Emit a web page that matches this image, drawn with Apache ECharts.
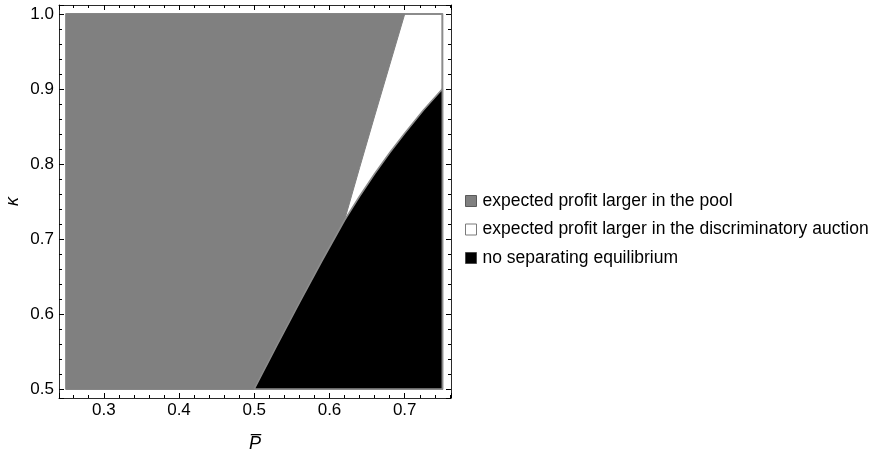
<!DOCTYPE html>
<html>
<head>
<meta charset="utf-8">
<script src="https://cdn.jsdelivr.net/npm/echarts@6/dist/echarts.min.js"></script>
<style>html,body{margin:0;padding:0;background:#fff;overflow:hidden;}#chart{width:869px;height:453px;}</style>
</head>
<body>
<div id="chart"></div>
<script>
// ---- data ----
const seriesNames = [
  'expected profit larger in the pool',
  'expected profit larger in the discriminatory auction',
  'no separating equilibrium'
];
const xTickLabels = ['0.3', '0.4', '0.5', '0.6', '0.7'];
const yTickLabels = ['0.5', '0.6', '0.7', '0.8', '0.9', '1.0'];
const pDomain = [0.25, 0.75];
const kDomain = [0.5, 1.0];
// upper boundary of the "no separating equilibrium" region
const noSepP = [0.50, 0.53, 0.56, 0.59, 0.62, 0.64, 0.66, 0.68, 0.70, 0.725, 0.75];
const noSepK = [0.500, 0.558, 0.615, 0.671, 0.725, 0.757, 0.787, 0.815, 0.841, 0.872, 0.900];
// boundary between pool and discriminatory auction regions
const poolP = [0.620, 0.640, 0.660, 0.680, 0.700];
const poolK = [0.725, 0.795, 0.864, 0.932, 1.000];

// ---- polygons built from the data ----
const rectPoly = [[pDomain[0], kDomain[0]], [pDomain[1], kDomain[0]], [pDomain[1], kDomain[1]], [pDomain[0], kDomain[1]]];
const blackPoly = noSepP.map((p, i) => [p, noSepK[i]]).concat([[pDomain[1], kDomain[0]]]);
const grayPoly = [[pDomain[0], kDomain[0]]]
  .concat(noSepP.slice(0, 5).map((p, i) => [p, noSepK[i]]))
  .concat(poolP.slice(1).map((p, i) => [p, poolK[i + 1]]))
  .concat([[pDomain[0], kDomain[1]]]);

function polySeries(name, poly, fill, stroke, lw) {
  return {
    type: 'custom', name: name, coordinateSystem: 'cartesian2d',
    xAxisIndex: 0, yAxisIndex: 0,
    data: poly, encode: { x: 0, y: 1 },
    itemStyle: { color: fill },
    silent: true, animation: false,
    renderItem: function (params, api) {
      if (params.dataIndex !== 0) return null;
      const pts = poly.map(p => api.coord(p));
      return { type: 'polygon', shape: { points: pts }, style: { fill: fill, stroke: stroke, lineWidth: lw, lineJoin: 'round' } };
    }
  };
}

const FONT = "'Liberation Sans', Arial, sans-serif";
const frameColor = '#2a2a2a';
function fmt(list) {
  return function (v) {
    const s = v.toFixed(1);
    return (list.indexOf(s) >= 0 && Math.abs(v - parseFloat(s)) < 1e-9) ? s : '';
  };
}
function xAxisDef(pos, major, withLabels) {
  return {
    type: 'value', position: pos, min: 0.2405, max: 0.7615,
    splitNumber: major ? 5 : 26,
    axisLine: { show: major, onZero: false, lineStyle: { color: frameColor, width: 1 } },
    axisTick: { show: true, inside: true, length: major ? 5 : 3, lineStyle: { color: '#000', width: 1 } },
    axisLabel: { show: withLabels, formatter: fmt(xTickLabels), color: '#000', fontSize: 17, fontFamily: FONT, margin: 4 },
    splitLine: { show: false },
    name: withLabels ? 'P\u0305' : '',
    nameLocation: 'middle', nameGap: 37,
    nameTextStyle: { fontSize: 18, fontStyle: 'italic', fontFamily: FONT, color: '#000' }
  };
}
function yAxisDef(pos, major, withLabels) {
  return {
    type: 'value', position: pos, min: 0.488, max: 1.012,
    splitNumber: major ? 5 : 26,
    axisLine: { show: major, onZero: false, lineStyle: { color: frameColor, width: 1 } },
    axisTick: { show: true, inside: true, length: major ? 5 : 3, lineStyle: { color: '#000', width: 1 } },
    axisLabel: { show: withLabels, formatter: fmt(yTickLabels), color: '#000', fontSize: 17, fontFamily: FONT, margin: 5 },
    splitLine: { show: false },
    name: withLabels ? '\u03ba' : '',
    nameLocation: 'middle', nameGap: 37, nameRotate: 90,
    nameTextStyle: { fontSize: 18, fontStyle: 'italic', fontFamily: FONT, color: '#000' }
  };
}

const chart = echarts.init(document.getElementById('chart'), null, { renderer: 'canvas', width: 869, height: 453 });
chart.setOption({
  animation: false,
  backgroundColor: '#fff',
  grid: { left: 59, right: 418, top: 5, bottom: 55, containLabel: false, outerBoundsMode: 'none' },
  xAxis: [xAxisDef('bottom', true, true), xAxisDef('top', true, false), xAxisDef('bottom', false, false), xAxisDef('top', false, false)],
  yAxis: [yAxisDef('left', true, true), yAxisDef('right', true, false), yAxisDef('left', false, false), yAxisDef('right', false, false)],
  legend: {
    orient: 'vertical', left: 465, top: 192, padding: 0,
    itemWidth: 11, itemHeight: 11, itemGap: 10.5,
    icon: 'rect',
    textStyle: { fontSize: 17.5, lineHeight: 17, color: '#000', fontFamily: FONT, padding: [0, 0, 0, 1] },
    selectedMode: false,
    data: [
      { name: seriesNames[0], itemStyle: { color: '#808080', borderColor: '#5a5a5a', borderWidth: 1 } },
      { name: seriesNames[1], itemStyle: { color: '#ffffff', borderColor: '#7a7a7a', borderWidth: 1 } },
      { name: seriesNames[2], itemStyle: { color: '#000000', borderColor: '#4a4a4a', borderWidth: 1 } }
    ]
  },
  series: [
    polySeries(seriesNames[1], rectPoly, '#ffffff', '#8c8c8c', 2),
    polySeries(seriesNames[0], grayPoly, '#808080', '#808080', 1),
    polySeries(seriesNames[2], blackPoly, '#000000', '#8c8c8c', 1.6)
  ]
});
</script>
</body>
</html>
